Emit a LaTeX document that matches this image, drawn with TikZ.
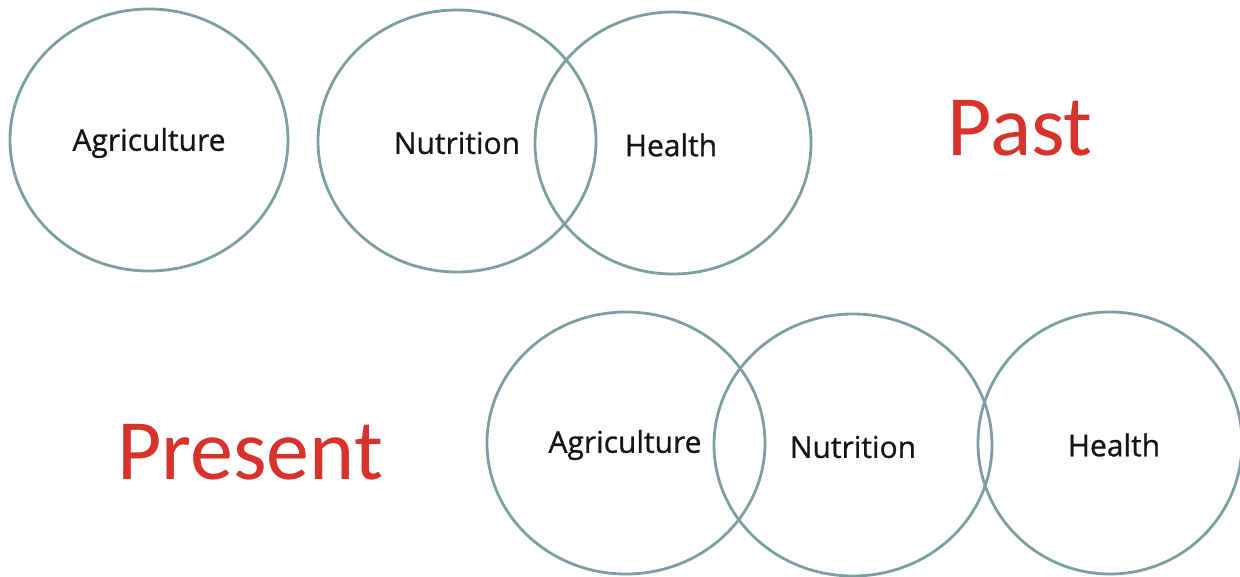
\documentclass[tikz,border=0pt]{standalone}
\usepackage{fontspec}
\setmainfont{Open Sans}
\newfontfamily\lblfont{Open Sans}[FakeBold=0.8]
\newfontfamily\calib{Carlito}
\definecolor{ringcol}{HTML}{7E9FA1}
\definecolor{redtxt}{HTML}{D7322B}
\begin{document}
\begin{tikzpicture}[x=1pt,y=-1pt,
  ringline/.style={draw=ringcol,line width=2.8pt},
  lbl/.style={font=\lblfont\fontsize{30}{36}\selectfont,text=black!92},
  big/.style={font=\calib\fontsize{86}{100}\selectfont,text=redtxt}]
\useasboundingbox (0,0) rectangle (1240,577);
\draw[ringline] (149,140) ellipse [x radius=139,y radius=131];
\node (pa) at (149,143) [lbl] {Agriculture};
\draw[ringline] (457,141) ellipse [x radius=139,y radius=131];
\node (pn) at (457,143) [lbl] {Nutrition};
\draw[ringline] (673,143) ellipse [x radius=138,y radius=131];
\node (ph) at (671,145) [lbl] {Health};
\node (past) at (1020,128) [big] {Past};
\draw[ringline] (626,443) ellipse [x radius=139,y radius=131];
\node (qa) at (625,445) [lbl] {Agriculture};
\draw[ringline] (853,445) ellipse [x radius=139,y radius=131];
\node (qn) at (853,447) [lbl] {Nutrition};
\draw[ringline] (1110,443) ellipse [x radius=132,y radius=131];
\node (qh) at (1114,445) [lbl] {Health};
\node (pres) at (250,452) [big] {Present};
\end{tikzpicture}
\end{document}
